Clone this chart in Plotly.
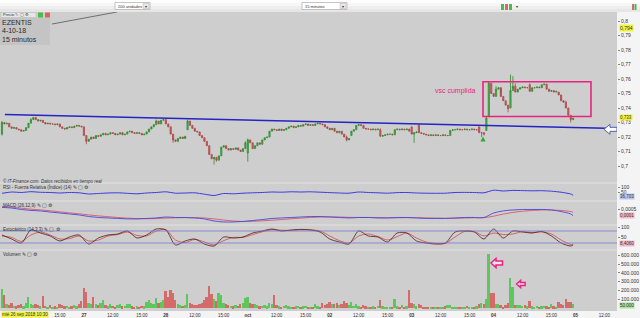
import plotly.graph_objects as go

# ---------------- data (15-minute bars, 26 Sep 09:00 -> 04 Oct 17:15) ----------------
bars_per_session = 34
session_labels = ["26", "27", "28", "oct", "02", "03", "04"]

close_milli = [
    # 26 sep
    730, 729, 729.5, 727, 726, 726.5, 725.5, 725, 724, 724.5,
    726.5, 729.5, 732, 733.5, 732, 731, 731.5, 730, 729, 729.5,
    729, 729, 728.5, 729, 727, 726, 725.5, 726.5, 727, 726.5,
    727.5, 728, 727.5, 727,
    # 27 sep
    721, 717, 718.5, 720, 719, 721, 720.5, 721.5, 722.5, 721.5,
    722, 723, 722.5, 721.5, 722, 723, 721.5, 722, 723.5, 724,
    723, 722.5, 723, 722.5, 721.5, 722, 723.5, 725.5, 727, 728.5,
    731, 729, 731.5, 732,
    # 28 sep
    729, 727, 722, 718, 717, 719, 720, 719, 720.5, 731,
    728, 726, 724, 723.5, 721, 719.5, 717, 714, 708, 705,
    706, 704, 707, 713, 714, 712, 711, 712, 711.5, 712.5,
    711, 710, 712, 716,
    # 01 oct
    718, 716, 712, 714, 716, 715, 718, 719.5, 720, 724,
    725.5, 725, 724.5, 725.5, 724.5, 725, 726, 727, 727.5, 726.5,
    727, 728, 727.5, 728.5, 729, 728, 728.5, 728, 729, 729.5,
    729, 728.5, 727, 726,
    # 02 oct
    725, 726, 724, 723, 724, 722, 720, 718, 719, 724,
    725, 728, 728.5, 728, 726, 725.5, 725.5, 725, 725.5, 725,
    725.5, 720.5, 721, 721.5, 722, 722, 721.5, 725, 725.5, 725,
    725.5, 725, 725.5, 724,
    # 03 oct
    722, 723, 723.5, 723, 722.5, 722, 721.5, 721, 721.5, 721,
    721.5, 721, 721, 721.5, 721, 721, 724.5, 725, 725, 725.5,
    725, 725, 725.5, 725, 725, 725.5, 725, 725, 723, 723,
    722, 733, 757, 750,
    # 04 oct
    748, 753, 754, 748, 745, 742, 739.5, 752, 755, 751,
    753, 754, 754.5, 754, 754, 751.5, 754, 754, 754.5, 754,
    756, 756.5, 753, 751.5, 752, 751, 751.5, 749, 745, 744,
    740, 735, 732, 733,
]
open_gaps_milli = {0: 722, 77: 725, 102: 709, 145: 721, 157: 725, 170: 727, 173: 728,
                   198: 727, 201: 724.5, 202: 734, 211: 740, 219: 756, 231: 751}
high_wicks_milli = {0: 731, 12: 733, 64: 732, 77: 732, 86: 714, 101: 717, 102: 719,
                    143: 721, 157: 726, 173: 729, 201: 734, 202: 758, 205: 755, 207: 750,
                    211: 763, 212: 762, 213: 757, 219: 757, 234: 745}
low_wicks_milli = {0: 721, 35: 715, 71: 716, 88: 701, 89: 703, 102: 703, 143: 717,
                   171: 716, 199: 720, 200: 721, 210: 737, 236: 730}

volume_k = [
    220, 150, 40, 30, 60, 25, 20, 35, 40, 20, 60, 130, 50, 30, 45, 30, 20, 140, 25, 15,
    30, 10, 20, 15, 40, 30, 20, 25, 15, 20, 35, 20, 45, 80,
    230, 180, 60, 40, 120, 50, 30, 60, 90, 30, 20, 40, 25, 15, 30, 45, 20, 25, 50, 40,
    20, 15, 20, 10, 25, 20, 70, 90, 60, 50, 110, 60, 70, 90,
    190, 120, 200, 170, 90, 40, 30, 25, 30, 160, 60, 40, 35, 30, 50, 60, 90, 120, 250, 160,
    100, 80, 170, 150, 60, 40, 30, 25, 20, 30, 25, 40, 60, 110,
    120, 60, 50, 40, 30, 20, 25, 30, 20, 60, 40, 150, 30, 20, 15, 25, 30, 20, 15, 10,
    20, 25, 15, 20, 25, 15, 10, 15, 40, 20, 15, 60, 30, 40,
    70, 40, 50, 60, 30, 45, 80, 60, 30, 70, 25, 40, 20, 15, 30, 20, 15, 10, 20, 15,
    25, 90, 20, 15, 10, 15, 10, 100, 20, 15, 30, 15, 20, 205,
    60, 40, 20, 50, 35, 15, 10, 15, 10, 15, 10, 8, 15, 10, 20, 35, 30, 15, 10, 15,
    8, 10, 15, 25, 10, 15, 10, 20, 40, 60, 45, 100, 610, 170,
    165, 45, 50, 30, 15, 35, 60, 340, 240, 35, 30, 30, 25, 30, 20, 80, 20, 15, 25, 15,
    20, 25, 20, 15, 45, 20, 15, 70, 40, 30, 100, 70, 70, 50,
]

ind_idx = list(range(0, 237, 4)) + [237]
rsi = [37, 50, 45, 53, 47, 45, 40, 45, 42, 30, 35, 40, 42, 37, 32, 40, 45, 52, 38, 40,
       42, 28, 15, 35, 32, 38, 42, 45, 50, 48, 52, 50, 52, 48, 44, 40, 38, 50, 45, 42,
       38, 44, 45, 40, 38, 37, 38, 45, 46, 45, 42, 68, 60, 66, 64, 62, 63, 58, 48, 30, 18]
macd_e4 = [6.0, 5.6, 4.7, 4.1, 3.8, 3.1, 2.5, 1.9, 1.3, 0.3, -0.3, -0.6, -0.9, -1.2, -1.2,
           -0.9, -0.6, 0, -0.3, -0.3, -0.6, -1.2, -2.5, -3.1, -3.1, -2.8, -2.2, -1.6, -0.9,
           -0.6, -0.3, 0, 0.3, 0.3, 0, -0.3, -0.6, -0.3, -0.3, -0.6, -0.6, -0.3, -0.3, -0.6,
           -0.9, -0.9, -0.9, -0.6, -0.3, -0.3, -0.3, 2.5, 3.8, 4.4, 4.7, 4.7, 4.7, 4.4, 3.4,
           1.9, 0.8]
signal_e4 = [6.5, 6.2, 5.5, 4.9, 4.4, 3.9, 3.2, 2.6, 2.0, 1.3, 0.7, 0.2, -0.3, -0.7, -1.0,
             -1.1, -1.0, -0.7, -0.5, -0.4, -0.4, -0.6, -1.2, -1.9, -2.5, -2.8, -2.7, -2.4,
             -2.0, -1.6, -1.1, -0.7, -0.3, 0, 0.1, 0, -0.2, -0.3, -0.3, -0.4, -0.5, -0.5,
             -0.4, -0.4, -0.6, -0.7, -0.8, -0.8, -0.6, -0.5, -0.4, 0.5, 1.8, 2.9, 3.6, 4.1,
             4.4, 4.4, 4.1, 3.4, 3.0]
stoch_k = [60, 40, 20, 85, 70, 55, 30, 50, 60, 15, 45, 60, 65, 80, 45, 60, 90, 85, 10, 30,
           40, 15, 5, 50, 45, 50, 70, 80, 90, 80, 85, 88, 85, 75, 40, 25, 15, 80, 55, 50,
           25, 70, 70, 30, 20, 15, 20, 75, 80, 75, 40, 90, 45, 80, 75, 70, 78, 55, 20, 5, 12]
stoch_d = [55, 48, 28, 60, 75, 60, 40, 42, 55, 30, 35, 55, 62, 75, 58, 55, 80, 87, 35, 22,
           38, 25, 10, 32, 48, 48, 62, 76, 86, 84, 83, 86, 86, 80, 55, 32, 20, 55, 65, 52,
           35, 52, 70, 45, 25, 18, 18, 50, 78, 77, 55, 70, 62, 65, 77, 72, 75, 65, 35, 12, 10]

tick_idx = [24, 34, 46, 58, 68, 80, 92, 102, 114, 126, 136, 148, 160, 170, 182, 194,
            204, 216, 228, 238, 250]
tick_text = ["15:00", "<b>27</b>", "12:00", "15:00", "<b>28</b>", "12:00", "15:00", "<b>oct</b>",
             "12:00", "15:00", "<b>02</b>", "12:00", "15:00", "<b>03</b>", "12:00", "15:00",
             "<b>04</b>", "12:00", "15:00", "<b>05</b>", "12:00"]
price_ticks = [0.70, 0.71, 0.72, 0.73, 0.74, 0.75, 0.76, 0.77, 0.78, 0.79, 0.80]
price_tick_text = ["0,7", "0,71", "0,72", "0,73", "0,74", "0,75", "0,76", "0,77", "0,78", "0,79", "0,8"]
vol_ticks = [100000, 200000, 300000, 400000, 500000, 600000]
vol_tick_text = ["100.000", "200.000", "300.000", "400.000", "500.000", "600.000"]

# ---------------- derived OHLC ----------------
n = len(close_milli)
x = list(range(n))
c = [v / 1000 for v in close_milli]
o, h, l = [], [], []
for i in range(n):
    op = open_gaps_milli.get(i, close_milli[i - 1] if i > 0 else close_milli[0]) / 1000
    o.append(op)
    h.append(high_wicks_milli.get(i, max(op * 1000, close_milli[i])) / 1000)
    l.append(low_wicks_milli.get(i, min(op * 1000, close_milli[i])) / 1000)
vol = [v * 1000 for v in volume_k]
vol_colors = ["#5cc85c" if c[i] >= o[i] else "#d46a6a" for i in range(n)]

# ---------------- geometry helpers ----------------
PW, TOP, BOT = 617, 12, 311
def py(y):
    return (BOT - y) / (BOT - TOP)
def pxp(xp):
    return xp / PW

FONT = "Liberation Sans, Arial, sans-serif"
fig = go.Figure()

fig.add_trace(go.Candlestick(
    x=x, open=o, high=h, low=l, close=c, yaxis="y", whiskerwidth=0,
    increasing=dict(line=dict(color="#2f8a2f", width=0.8), fillcolor="#4cbb4c"),
    decreasing=dict(line=dict(color="#a84848", width=0.8), fillcolor="#d46a6a"),
    showlegend=False, hoverinfo="skip"))
fig.add_trace(go.Scatter(x=[199.6], y=[0.7204], mode="markers", yaxis="y",
                         marker=dict(symbol="arrow-up", size=5, color="#22b022"),
                         showlegend=False, hoverinfo="skip"))
fig.add_trace(go.Scatter(x=ind_idx, y=rsi, yaxis="y2", mode="lines",
                         line=dict(color="#3a3ae0", width=1, shape="spline", smoothing=0.6),
                         showlegend=False, hoverinfo="skip"))
fig.add_trace(go.Scatter(x=ind_idx, y=[v * 1e-4 for v in signal_e4], yaxis="y3", mode="lines",
                         line=dict(color="#d65a6a", width=0.9, shape="spline"),
                         showlegend=False, hoverinfo="skip"))
fig.add_trace(go.Scatter(x=ind_idx, y=[v * 1e-4 for v in macd_e4], yaxis="y3", mode="lines",
                         line=dict(color="#4848d8", width=0.9, shape="spline"),
                         showlegend=False, hoverinfo="skip"))
fig.add_trace(go.Scatter(x=ind_idx, y=stoch_d, yaxis="y4", mode="lines",
                         line=dict(color="#d04848", width=0.8, shape="spline", smoothing=0.8),
                         showlegend=False, hoverinfo="skip"))
fig.add_trace(go.Scatter(x=ind_idx, y=stoch_k, yaxis="y4", mode="lines",
                         line=dict(color="#4a1a1a", width=0.8, shape="spline", smoothing=0.8),
                         showlegend=False, hoverinfo="skip"))
fig.add_trace(go.Bar(x=x, y=vol, yaxis="y5", marker=dict(color=vol_colors, line=dict(width=0)),
                     width=0.75, showlegend=False, hoverinfo="skip"))

ax_common = dict(side="right", anchor="x", showgrid=False, zeroline=False, showline=False,
                 ticks="outside", ticklen=2, tickcolor="#888888", tickwidth=0.6,
                 tickfont=dict(size=5, color="#333333", family=FONT))

shapes = []
# toolbar gradient
grad = ["#fdfdfd", "#f6f6f6", "#eeeeee", "#e6e6e6"]
for k, col in enumerate(grad):
    shapes.append(dict(type="rect", xref="paper", yref="paper", x0=0, x1=640 / PW,
                       y0=py(3 * (k + 1)), y1=py(3 * k), fillcolor=col, line=dict(width=0), layer="below"))
# toolbar widgets
for (x0, x1) in [(115, 150), (302, 347)]:
    shapes.append(dict(type="rect", xref="paper", yref="paper", x0=pxp(x0), x1=pxp(x1),
                       y0=py(9.5), y1=py(2.5), fillcolor="#ffffff", line=dict(color="#a0a0a0", width=0.6)))
    shapes.append(dict(type="rect", xref="paper", yref="paper", x0=pxp(x1 - 7), x1=pxp(x1 - 1),
                       y0=py(8.5), y1=py(3.5), fillcolor="#e8e8e8", line=dict(color="#b0b0b0", width=0.5)))
for (x0, x1, col) in [(501, 504, "#4cbb4c"), (505, 508, "#d46a6a"), (509, 512, "#4cbb4c"),
                      (632, 634, "#d46a6a"), (634.5, 636.5, "#4cbb4c")]:
    shapes.append(dict(type="rect", xref="paper", yref="paper", x0=pxp(x0), x1=pxp(x1),
                       y0=py(10), y1=py(4), fillcolor=col, line=dict(width=0)))
# info box top-left
shapes.append(dict(type="rect", xref="paper", yref="paper", x0=0, x1=pxp(50), y0=py(45), y1=py(18),
                   fillcolor="#c4c4c4", line=dict(width=0), layer="below"))
shapes.append(dict(type="rect", xref="paper", yref="paper", x0=pxp(1), x1=pxp(36), y0=py(17.5), y1=py(12.5),
                   fillcolor="#e6e6e6", line=dict(color="#b5b5b5", width=0.5)))
for (x0, x1, col) in [(38, 43, "#4cbb4c"), (45, 50, "#e06060")]:
    shapes.append(dict(type="rect", xref="paper", yref="paper", x0=pxp(x0), x1=pxp(x1),
                       y0=py(17.5), y1=py(12.5), fillcolor=col, line=dict(width=0)))
# panel separators
for ysep in [183, 201, 225, 250]:
    shapes.append(dict(type="line", xref="paper", yref="paper", x0=0, x1=1, y0=py(ysep), y1=py(ysep),
                       line=dict(color="#e2e2e2", width=1)))
# stochastic 80/20 lines
for lv in [80, 20]:
    shapes.append(dict(type="line", xref="paper", yref="y4", x0=0, x1=1, y0=lv, y1=lv,
                       line=dict(color="#7a7ad6", width=0.8)))
# trend line, drawn line and pink box
shapes.append(dict(type="line", xref="x", yref="y", x0=1.2, y0=0.7355, x1=255.2, y1=0.7259,
                   line=dict(color="#2424c4", width=1.6)))
shapes.append(dict(type="line", xref="x", yref="y", x0=20.7, y0=0.7979, x1=47.7, y1=0.8062,
                   line=dict(color="#6e6e6e", width=1)))
shapes.append(dict(type="rect", xref="x", yref="y", x0=199.6, x1=244.4, y0=0.7341, y1=0.7581,
                   line=dict(color="#e8247f", width=1.6), fillcolor="rgba(0,0,0,0)"))
# arrows
shapes.append(dict(type="path", xref="x", yref="y", xsizemode="pixel", ysizemode="pixel",
                   xanchor=252.7, yanchor=0.7253,
                   path="M -7 0 L -1 5 L -1 2 L 6 2 L 6 -2 L -1 -2 L -1 -5 Z",
                   fillcolor="#ffffff", line=dict(color="#5563a8", width=1)))
shapes.append(dict(type="path", xref="x", yref="y5", xsizemode="pixel", ysizemode="pixel",
                   xanchor=205.4, yanchor=511000,
                   path="M -6 0 L -1 4.5 L -1 2 L 5.5 2 L 5.5 -2 L -1 -2 L -1 -4.5 Z",
                   fillcolor="rgba(255,235,245,0.7)", line=dict(color="#e8247f", width=1.5)))
shapes.append(dict(type="path", xref="x", yref="y5", xsizemode="pixel", ysizemode="pixel",
                   xanchor=215.4, yanchor=273000,
                   path="M -4.5 0 L -0.5 3.5 L -0.5 1.5 L 4 1.5 L 4 -1.5 L -0.5 -1.5 L -0.5 -3.5 Z",
                   fillcolor="rgba(255,235,245,0.7)", line=dict(color="#e8247f", width=1.5)))

annotations = []
def ann(text, xp, yp, size=5, color="#333333", xanchor="left", bg=None, italic=False, **kw):
    if italic:
        text = "<i>" + text + "</i>"
    annotations.append(dict(text=text, xref="paper", yref="paper", x=pxp(xp), y=py(yp),
                            xanchor=xanchor, yanchor="middle", showarrow=False,
                            font=dict(size=size, color=color, family=FONT),
                            bgcolor=bg, borderpad=0, **kw))

ann("200 unidades", 117, 6, size=4)
ann("▾", 146, 6, size=4, xanchor="center")
ann("15 minutos", 304, 6, size=4)
ann("▾", 343, 6, size=4, xanchor="center")
ann("▾", 517, 6.5, size=4, xanchor="center")
ann("Precio ✎ ▢ ⚙", 2, 15, size=4)
ann("EZENTIS", 1, 23, size=7, color="#2a2a2a")
ann("4-10-18", 1, 31, size=7, color="#2a2a2a")
ann("15 minutos", 1, 39, size=7, color="#2a2a2a")
ann("vsc cumplida", 455, 91, size=7, color="#e8247f", xanchor="center")
ann("© IT-Finance.com. Datos recibidos en tiempo real", 2, 180.5, size=4.5, italic=True)
ann("RSI - Fuerza Relativa (Índice) (14) ✎ ▢ ⚙", 2, 187, size=4.5)
ann("MACD (26,12,9) ✎ ▢ ⚙", 2, 205, size=4.5)
ann("Estocástico (14,3,3) ✎ ▢ ⚙", 2, 229, size=4.5)
ann("Volumen ✎ ▢ ⚙", 2, 254, size=4.5)
ann("mié 26 sep 2018 10:30", 0.5, 314.5, size=4.5, bg="#f2f23c")
# right-axis value flags
ann("0,794", 619, 28, size=5, bg="#f2f23c")
ann("0,733", 619, 117, size=4.5, bg="#f2f23c")
ann("36,703", 619, 196, size=4.5, bg="#b9c6f0")
ann("0,0001", 619, 215, size=4.5, bg="#f2b8c6")
ann("8,4060", 619, 243, size=4.5, bg="#f2b8c6")
ann("50.000", 619, 305, size=4.5, bg="#a8e2a0")

fig.update_layout(
    width=640, height=318, margin=dict(l=0, r=23, t=12, b=7),
    paper_bgcolor="#f4f4f4", plot_bgcolor="#cecece",
    showlegend=False, hovermode=False, bargap=0,
    font=dict(family=FONT, size=5, color="#333333"),
    xaxis=dict(range=[-0.83, 255.2], anchor="y5", showgrid=False, zeroline=False, showline=False,
               tickmode="array", tickvals=tick_idx, ticktext=tick_text, ticks="",
               tickfont=dict(size=4.5, color="#333333", family=FONT),
               rangeslider=dict(visible=False)),
    yaxis=dict(domain=[py(183), 1], range=[0.68828, 0.80621], tickvals=price_ticks,
               ticktext=price_tick_text, **ax_common),
    yaxis2=dict(domain=[py(201), py(183)], range=[-40, 140], tickvals=[50, 100],
                ticktext=["50", "100"], **ax_common),
    yaxis3=dict(domain=[py(225), py(201)], range=[-0.0005, 0.001], tickvals=[0.0005],
                ticktext=["0,0005"], **ax_common),
    yaxis4=dict(domain=[py(250), py(225)], range=[-15, 110], tickvals=[50, 100],
                ticktext=["50", "100"], **ax_common),
    yaxis5=dict(domain=[0, py(250)], range=[-34000, 659000], tickvals=vol_ticks,
                ticktext=vol_tick_text, **ax_common),
    shapes=shapes, annotations=annotations,
)

fig.write_html("out.html")
